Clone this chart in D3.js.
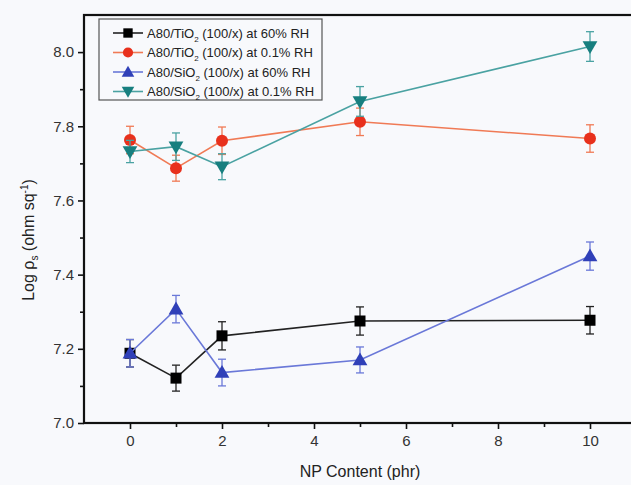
<!doctype html>
<html>
<head>
<script src="https://d3js.org/d3.v7.min.js"></script>
<style>
  body { margin: 0; background: #f8f9fc; }
  svg { font-family: "Liberation Sans", Arial, sans-serif; }
</style>
</head>
<body>
<svg width="631" height="485"></svg>
<script>
// data
var xs = [0, 1, 2, 5, 10];
var tio2_60 = [7.188, 7.121, 7.235, 7.275, 7.277];
var tio2_60_err = [0.037, 0.035, 0.038, 0.038, 0.037];
var tio2_01 = [7.763, 7.687, 7.761, 7.812, 7.767];
var tio2_01_err = [0.037, 0.035, 0.037, 0.037, 0.037];
var sio2_60 = [7.188, 7.307, 7.136, 7.170, 7.450];
var sio2_60_err = [0.037, 0.037, 0.036, 0.035, 0.038];
var sio2_01 = [7.732, 7.745, 7.691, 7.867, 8.015];
var sio2_01_err = [0.030, 0.037, 0.035, 0.040, 0.040];
var xTicks = [0, 2, 4, 6, 8, 10];
var yTicks = [7.0, 7.2, 7.4, 7.6, 7.8, 8.0];

var series = [
  { name: "A80/TiO", sub: "2", rest: " (100/x) at 60% RH", y: tio2_60, err: tio2_60_err, line: "#222", fill: "#000", sym: "square" },
  { name: "A80/TiO", sub: "2", rest: " (100/x) at 0.1% RH", y: tio2_01, err: tio2_01_err, line: "#f07a55", fill: "#e8301c", sym: "circle" },
  { name: "A80/SiO", sub: "2", rest: " (100/x) at 60% RH", y: sio2_60, err: sio2_60_err, line: "#6a78d8", fill: "#3040b8", sym: "up" },
  { name: "A80/SiO", sub: "2", rest: " (100/x) at 0.1% RH", y: sio2_01, err: sio2_01_err, line: "#4aa2a2", fill: "#177f7f", sym: "down" }
];

var svg = d3.select("svg");
var pL = 84, pR = 636, pT = 15, pB = 423;

var x = d3.scaleLinear().domain([-1, 11]).range([pL, pR]);
var y = d3.scaleLinear().domain([7.0, 8.1]).range([pB, pT]);

// frame
svg.append("rect")
  .attr("x", pL).attr("y", pT)
  .attr("width", pR - pL).attr("height", pB - pT)
  .attr("fill", "none").attr("stroke", "#111").attr("stroke-width", 2.2);

// axes
svg.append("g").attr("transform", "translate(0," + pB + ")")
  .call(d3.axisBottom(x).tickValues(xTicks).tickSize(6).tickPadding(6).tickFormat(d3.format("d")));
svg.append("g").attr("transform", "translate(0," + pB + ")")
  .call(d3.axisBottom(x).tickValues([1, 3, 5, 7, 9]).tickSize(4).tickFormat(""));
svg.append("g").attr("transform", "translate(" + pL + ",0)")
  .call(d3.axisLeft(y).tickValues(yTicks).tickSize(6).tickPadding(4).tickFormat(d3.format(".1f")));
svg.append("g").attr("transform", "translate(" + pL + ",0)")
  .call(d3.axisLeft(y).tickValues([7.1, 7.3, 7.5, 7.7, 7.9]).tickSize(4).tickFormat(""));

svg.selectAll(".domain").remove();
svg.selectAll(".tick line").attr("stroke", "#111").attr("stroke-width", 1.6);
svg.selectAll(".tick text").attr("fill", "#333").style("font-size", "15px");

// axis titles
svg.append("text")
  .attr("x", x(5)).attr("y", 477)
  .attr("text-anchor", "middle")
  .style("font-size", "16px").attr("fill", "#222")
  .text("NP Content (phr)");

var yl = svg.append("text")
  .attr("transform", "translate(34," + 240 + ")rotate(-90)")
  .attr("text-anchor", "middle")
  .style("font-size", "16px").attr("fill", "#222");
yl.append("tspan").text("Log \u03c1");
yl.append("tspan").attr("dy", 4).style("font-size", "10px").text("s");
yl.append("tspan").attr("dy", -4).text(" (ohm sq");
yl.append("tspan").attr("dy", -6).style("font-size", "10px").text("-1");
yl.append("tspan").attr("dy", 6).text(")");

function symbol(g, s, cx, cy, scale) {
  var k = scale || 1;
  if (s.sym === "square") {
    g.append("rect").attr("x", cx - 5.5 * k).attr("y", cy - 5.5 * k)
      .attr("width", 11 * k).attr("height", 11 * k).attr("fill", s.fill);
  } else if (s.sym === "circle") {
    g.append("circle").attr("cx", cx).attr("cy", cy).attr("r", 6 * k).attr("fill", s.fill);
  } else {
    var t = d3.symbol().type(d3.symbolTriangle).size(95 * k * k);
    g.append("path").attr("d", t())
      .attr("transform", "translate(" + cx + "," + (cy + (s.sym === "up" ? 1 : -1)) + ")" + (s.sym === "down" ? "rotate(180)" : ""))
      .attr("fill", s.fill);
  }
}

var line = d3.line().x(function(d) { return x(d[0]); }).y(function(d) { return y(d[1]); });

series.forEach(function(s) {
  var pts = xs.map(function(v, i) { return [v, s.y[i], s.err[i]]; });
  var g = svg.append("g");
  g.append("path").attr("d", line(pts))
    .attr("fill", "none").attr("stroke", s.line).attr("stroke-width", 1.6);
  pts.forEach(function(p) {
    var cx = x(p[0]);
    g.append("line").attr("x1", cx).attr("x2", cx)
      .attr("y1", y(p[1] + p[2])).attr("y2", y(p[1] - p[2]))
      .attr("stroke", s.line).attr("stroke-width", 1.3);
    [p[1] + p[2], p[1] - p[2]].forEach(function(e) {
      g.append("line").attr("x1", cx - 4).attr("x2", cx + 4)
        .attr("y1", y(e)).attr("y2", y(e))
        .attr("stroke", s.line).attr("stroke-width", 1.3);
    });
    symbol(g, s, cx, y(p[1]));
  });
});

// legend
var lg = svg.append("g");
lg.append("rect").attr("x", 99).attr("y", 19).attr("width", 223).attr("height", 81)
  .attr("fill", "#f8f9fc").attr("stroke", "#555").attr("stroke-width", 1.2);
series.forEach(function(s, i) {
  var ly = 33 + i * 19.5;
  lg.append("line").attr("x1", 113).attr("x2", 143).attr("y1", ly).attr("y2", ly)
    .attr("stroke", s.line).attr("stroke-width", 1.6);
  symbol(lg, s, 128, ly, 0.85);
  var t = lg.append("text").attr("x", 147).attr("y", ly + 4.5)
    .style("font-size", "13px").attr("fill", "#222");
  t.append("tspan").text(s.name);
  t.append("tspan").attr("dy", 4).style("font-size", "8px").text(s.sub);
  t.append("tspan").attr("dy", -4).text(s.rest);
});
</script>
</body>
</html>
